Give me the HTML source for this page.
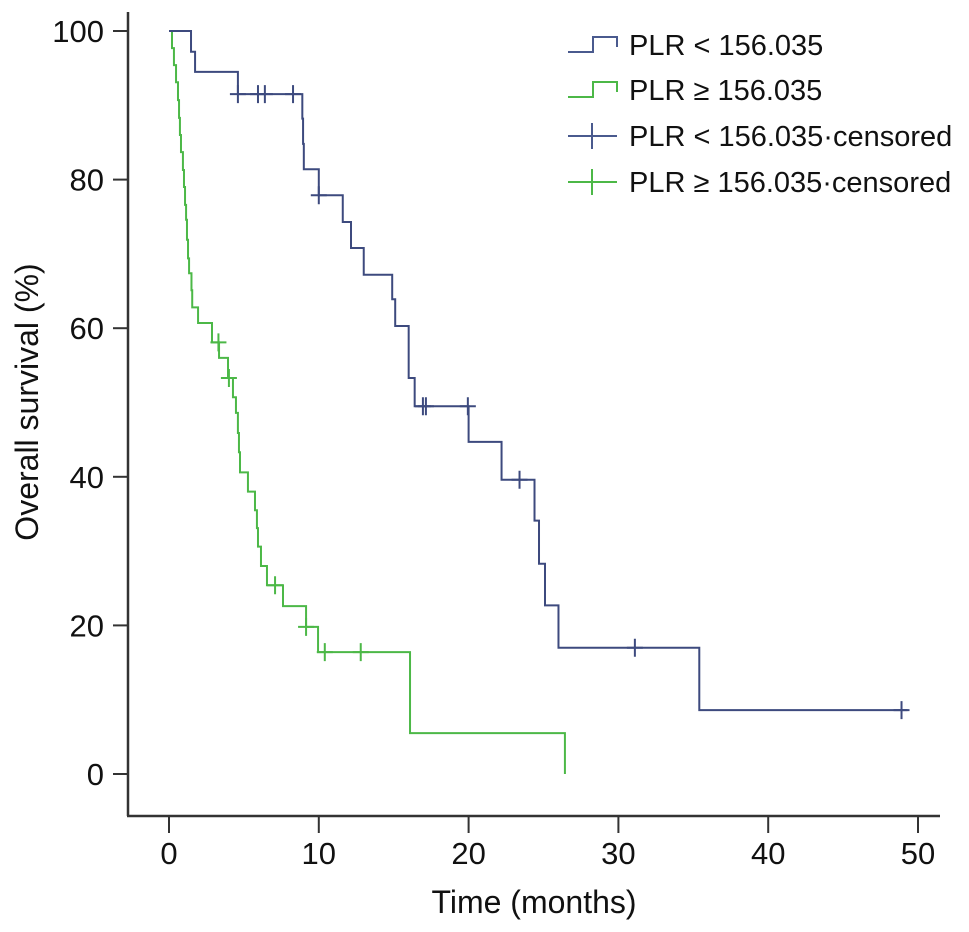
<!DOCTYPE html>
<html><head><meta charset="utf-8"><style>
html,body{margin:0;padding:0;background:#fff;}
svg{display:block;font-family:"Liberation Sans",Arial,sans-serif;}
</style></head><body>
<svg id="chart" width="969" height="932" viewBox="0 0 969 932" xmlns="http://www.w3.org/2000/svg">
<g id="axes"></g>
<g id="series"></g>
<g id="legend"></g>
</svg>
<script>
const xTicks = [0, 10, 20, 30, 40, 50];
const yTicks = [0, 20, 40, 60, 80, 100];
const blueTimes = [1.47, 1.74, 4.6, 8.9, 8.95, 9.0, 10.0, 11.6, 12.15, 13.0, 14.9, 15.1, 16.0, 16.4, 20.0, 22.2, 24.4, 24.7, 25.1, 26.0, 35.4];
const blueSurv = [97.2, 94.5, 91.5, 88.2, 84.8, 81.4, 77.9, 74.3, 70.8, 67.2, 63.9, 60.3, 53.3, 49.5, 44.7, 39.6, 34.1, 28.3, 22.7, 17.0, 8.6];
const blueCensor = [4.6, 5.94, 6.4, 8.28, 10.0, 16.95, 17.15, 19.95, 23.4, 31.1, 48.9];
const blueEnd = 49.3;
const greenTimes = [0.2, 0.33, 0.47, 0.6, 0.67, 0.73, 0.8, 0.93, 1.0, 1.07, 1.14, 1.2, 1.27, 1.34, 1.5, 1.55, 1.94, 2.87, 3.34, 3.94, 4.27, 4.47, 4.6, 4.67, 4.74, 5.27, 5.74, 5.87, 5.94, 6.14, 6.54, 7.61, 9.15, 9.95, 16.09, 26.43];
const greenSurv = [97.7, 95.4, 93.1, 90.7, 88.3, 86.0, 83.7, 81.3, 79.0, 76.6, 74.6, 71.9, 69.4, 67.4, 65.1, 62.8, 60.7, 58.1, 56.0, 53.3, 50.7, 48.6, 45.9, 43.3, 40.6, 38.0, 35.5, 33.1, 30.6, 28.0, 25.4, 22.6, 19.8, 16.4, 5.5, 0];
const greenCensor = [3.3, 4.0, 7.08, 9.15, 10.4, 12.8];
const greenEnd = 26.43;

const NS = "http://www.w3.org/2000/svg";
const X0 = 169, X1 = 918, Y0 = 774, Y1 = 31;
function xs(t){ return X0 + (X1 - X0) * t / 50; }
function ys(v){ return Y0 - (Y0 - Y1) * v / 100; }
function mk(tag, attrs, parent){ const e = document.createElementNS(NS, tag); for (const k in attrs) e.setAttribute(k, attrs[k]); parent.appendChild(e); return e; }

const axes = document.getElementById('axes');
const yAxis = mk('line', {x1:128, y1:12, x2:128, y2:816, stroke:'#333', 'stroke-width':2.5}, axes);


const xAxis = mk('line', {x1:127, y1:816, x2:940, y2:816, stroke:'#333', 'stroke-width':2.5}, axes);


xTicks.forEach(t => {
  const tk = mk('line', {x1:xs(t), y1:816, x2:xs(t), y2:833, stroke:'#333', 'stroke-width':2}, axes);
  
  
  const lb = mk('text', {x:xs(t), y:864, 'text-anchor':'middle', 'font-size':31, fill:'#111'}, axes);
  lb.textContent = t;
  
  
});
yTicks.forEach(v => {
  const tk = mk('line', {x1:113, y1:ys(v), x2:128, y2:ys(v), stroke:'#333', 'stroke-width':2}, axes);
  
  
  const lb = mk('text', {x:104, y:ys(v)+11, 'text-anchor':'end', 'font-size':31, fill:'#111'}, axes);
  lb.textContent = v;
  
  
});
const xt = mk('text', {x:534, y:913, 'text-anchor':'middle', 'font-size':32, fill:'#111'}, axes);
xt.textContent = 'Time (months)';


const yt = mk('text', {x:0, y:0, 'text-anchor':'middle', 'font-size':32, fill:'#111', transform:'translate(38,402) rotate(-90)'}, axes);
yt.textContent = 'Overall survival (%)';



const series = document.getElementById('series');
function survAt(times, surv, t){ let s = 100; for (let i = 0; i < times.length; i++) if (times[i] <= t) s = surv[i]; return s; }
function drawCurve(times, surv, censor, end, color, name){
  let d = 'M' + xs(0) + ',' + ys(100);
  for (let i = 0; i < times.length; i++){
    d += ' H' + xs(times[i]) + ' V' + ys(surv[i]);
  }
  d += ' H' + xs(end);
  const p = mk('path', {d:d, fill:'none', stroke:color, 'stroke-width':2}, series);
  
  
  censor.forEach(t => {
    const s = survAt(times, surv, t);
    const c = mk('path', {d:'M'+(xs(t)-8)+','+ys(s)+' H'+(xs(t)+8)+' M'+xs(t)+','+(ys(s)-9)+' V'+(ys(s)+9), stroke:color, 'stroke-width':2, fill:'none'}, series);
    
    
  });
}
drawCurve(greenTimes, greenSurv, greenCensor, greenEnd, '#4cb847', 'plr-high');
drawCurve(blueTimes, blueSurv, blueCensor, blueEnd, '#3d4a7e', 'plr-low');

const legend = document.getElementById('legend');
const items = [
  {label:'PLR < 156.035', color:'#4a5a8e', type:'step'},
  {label:'PLR \u2265 156.035', color:'#4cb847', type:'step'},
  {label:'PLR < 156.035\u00b7censored', color:'#4a5a8e', type:'cross'},
  {label:'PLR \u2265 156.035\u00b7censored', color:'#4cb847', type:'cross'}
];
const rowY = [45, 90, 136, 182];
items.forEach((it, i) => {
  const y = rowY[i];
  const g = mk('g', {}, legend);
  
  
  if (it.type === 'step') {
    mk('path', {d:'M568,'+(y+7)+' H593 V'+(y-8)+' H617 V'+(y+2), fill:'none', stroke:it.color, 'stroke-width':2}, g);
  } else {
    mk('path', {d:'M568,'+y+' H617 M592,'+(y-13)+' V'+(y+13), fill:'none', stroke:it.color, 'stroke-width':2}, g);
  }
  const tx = mk('text', {x:629, y:y+10, 'font-size':29, fill:'#111'}, g);
  tx.textContent = it.label;
});
</script>
</body></html>
